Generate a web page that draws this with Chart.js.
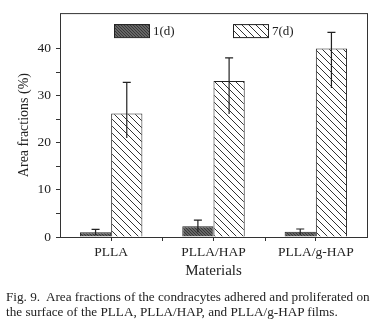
<!DOCTYPE html>
<html>
<head>
<meta charset="utf-8">
<script src="https://cdn.jsdelivr.net/npm/chart.js@4.4.1/dist/chart.umd.min.js"></script>
<style>
  html, body { margin: 0; padding: 0; background: #fff; }
  #wrap { position: relative; width: 384px; height: 329px; }
  #chart { position: absolute; left: 0; top: 0; }
  .caption {
    position: absolute; left: 6px; top: 290px;
    font-family: "Liberation Serif", "DejaVu Serif", serif;
    font-size: 13.2px; line-height: 14.5px; color: #222; white-space: nowrap;
  }
</style>
</head>
<body>
<div id="wrap">
  <canvas id="chart" width="384" height="290"></canvas>
  <div class="caption">Fig. 9.&nbsp; Area fractions of the condracytes adhered and proliferated on<br>the surface of the PLLA, PLLA/HAP, and PLLA/g-HAP films.</div>
</div>
<script>
// Data
const materials = ['PLLA', 'PLLA/HAP', 'PLLA/g-HAP'];
const day1 = [1.0, 2.3, 1.1];
const day1Plus = [0.6, 1.3, 0.6];
const day1Minus = [0.6, 1.3, 0.6];
const day7 = [26.2, 33.1, 40.0];
const day7Plus = [6.6, 4.9, 3.4];
const day7Minus = [5.2, 7.0, 8.4];
const yLabels = [0, 10, 20, 30, 40];

const serif = '"Liberation Serif", "DejaVu Serif", serif';
const ink = '#222';

// Hatch fills
function hatch(bg, fg, size, width) {
    const c = document.createElement('canvas');
    c.width = size; c.height = size;
    const g = c.getContext('2d');
    g.fillStyle = bg;
    g.fillRect(0, 0, size, size);
    g.strokeStyle = fg;
    g.lineWidth = width;
    g.beginPath();
    g.moveTo(-1, -1); g.lineTo(size + 1, size + 1);
    g.moveTo(-1, size - 1); g.lineTo(1, size + 1);
    g.moveTo(size - 1, -1); g.lineTo(size + 1, 1);
    g.stroke();
    return document.getElementById('chart').getContext('2d').createPattern(c, 'repeat');
}
const darkFill = hatch('#666666', '#383838', 3, 1);
const lightFill = hatch('#ffffff', '#333333', 7, 1);

// Frame, x ticks between groups, error bars, inset legend
const extras = {
    id: 'extras',
    afterDatasetsDraw(chart) {
        const {ctx, chartArea: a, scales: {x, y}} = chart;
        const errs = [[day1Plus, day1Minus], [day7Plus, day7Minus]];
        ctx.save();
        ctx.strokeStyle = ink;
        ctx.lineWidth = 1.2;
        chart.data.datasets.forEach((ds, di) => {
            chart.getDatasetMeta(di).data.forEach((bar, i) => {
                const v = ds.data[i];
                const top = y.getPixelForValue(v + errs[di][0][i]);
                const bot = y.getPixelForValue(v - errs[di][1][i]);
                ctx.beginPath();
                ctx.moveTo(bar.x, top); ctx.lineTo(bar.x, bot);
                ctx.moveTo(bar.x - 4, top); ctx.lineTo(bar.x + 4, top);
                ctx.stroke();
            });
        });
        ctx.lineWidth = 1;
        ctx.strokeStyle = '#333';
        ctx.strokeRect(a.left + 0.5, a.top + 0.5, a.right - a.left, a.bottom - a.top);
        ctx.beginPath();
        for (let i = 0; i < materials.length - 1; i++) {
            const px = Math.round((x.getPixelForValue(i) + x.getPixelForValue(i + 1)) / 2) + 0.5;
            ctx.moveTo(px, a.bottom); ctx.lineTo(px, a.bottom + 4);
        }
        ctx.stroke();

        // legend
        const slots = [a.left + 54, a.left + 173];
        ctx.font = '13px ' + serif;
        ctx.textBaseline = 'middle';
        chart.data.datasets.forEach((ds, di) => {
            const lx = slots[di], ly = a.top + 11;
            ctx.fillStyle = ds.backgroundColor;
            ctx.fillRect(lx, ly, 35, 13);
            ctx.strokeStyle = ink;
            ctx.strokeRect(lx + 0.5, ly + 0.5, 35, 13);
            ctx.fillStyle = ink;
            ctx.fillText(ds.label, lx + 39, ly + 7);
        });
        ctx.restore();
    }
};

new Chart(document.getElementById('chart'), {
    type: 'bar',
    data: {
        labels: materials,
        datasets: [
            { label: '1(d)', data: day1, backgroundColor: darkFill, borderColor: ink, borderWidth: 1 },
            { label: '7(d)', data: day7, backgroundColor: lightFill, borderColor: ink, borderWidth: 1 }
        ]
    },
    options: {
        responsive: false,
        animation: false,
        categoryPercentage: 0.61,
        barPercentage: 1.0,
        layout: { padding: { top: 9, right: 17, left: 0, bottom: 0 } },
        plugins: { legend: { display: false }, tooltip: { enabled: false } },
        scales: {
            x: {
                grid: { display: true, drawOnChartArea: false, offset: false, tickLength: 4, color: '#333' },
                border: { display: false },
                ticks: { color: ink, font: { family: serif, size: 13.5 }, padding: 3 },
                title: { display: true, text: 'Materials', color: ink, font: { family: serif, size: 15 }, padding: { top: 0, bottom: 10 } },
                afterFit: s => { s.height = 53; }
            },
            y: {
                min: 0,
                max: 47.5,
                grid: { drawOnChartArea: false, tickLength: 4, color: '#333' },
                border: { display: false },
                ticks: {
                    stepSize: 5,
                    color: ink,
                    font: { family: serif, size: 13.5 },
                    padding: 5,
                    callback: v => yLabels.includes(v) ? String(v) : ''
                },
                afterBuildTicks: s => { s.ticks = s.ticks.filter(t => t.value % 5 === 0); },
                title: { display: true, text: 'Area fractions (%)', color: ink, font: { family: serif, size: 14 }, padding: { top: 16, bottom: 0 } },
                afterFit: s => { s.width = 60; }
            }
        }
    },
    plugins: [extras]
});
</script>
</body>
</html>
